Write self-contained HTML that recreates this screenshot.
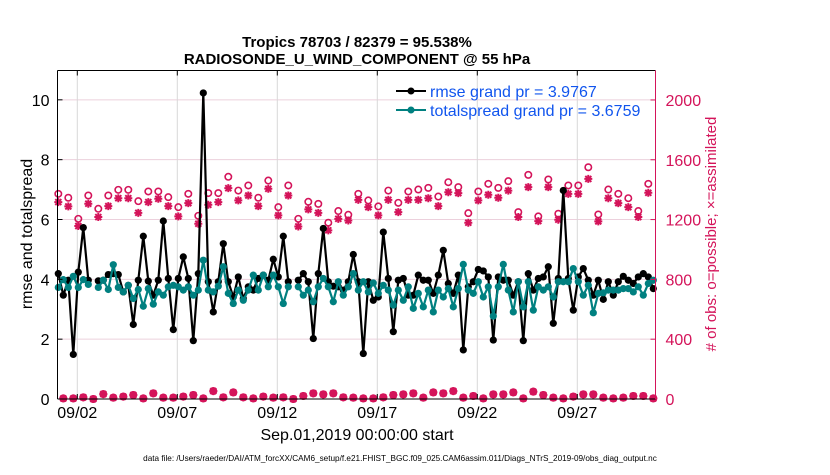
<!DOCTYPE html>
<html><head><meta charset="utf-8"><style>
body{margin:0;background:#fff;width:830px;height:470px;overflow:hidden;font-family:"Liberation Sans",sans-serif}
svg text{font-family:"Liberation Sans",sans-serif}
</style></head><body>
<svg id="chart" width="830" height="470" xmlns="http://www.w3.org/2000/svg">
<rect width="830" height="470" fill="#fff"/>
<g id="grid"></g>
<g id="marks"></g>
<g id="axes"></g>
<text x="357" y="47" text-anchor="middle" font-size="15" font-weight="bold">Tropics 78703 / 82379 = 95.538%</text>
<text x="357" y="64" text-anchor="middle" font-size="15" font-weight="bold">RADIOSONDE_U_WIND_COMPONENT @ 55 hPa</text>
<text transform="translate(32,234) rotate(-90)" text-anchor="middle" font-size="16">rmse and totalspread</text>
<text transform="translate(716,234) rotate(-90)" text-anchor="middle" font-size="15" fill="#d4145a"># of obs: o=possible; ×=assimilated</text>
<text x="357" y="440" text-anchor="middle" font-size="16">Sep.01,2019 00:00:00 start</text>
<text x="400" y="461" text-anchor="middle" font-size="8.2">data file: /Users/raeder/DAI/ATM_forcXX/CAM6_setup/f.e21.FHIST_BGC.f09_025.CAM6assim.011/Diags_NTrS_2019-09/obs_diag_output.nc</text>
<g>
<line x1="396" y1="91" x2="426" y2="91" stroke="#000" stroke-width="2"/><circle cx="411" cy="91" r="3.5" fill="#000"/>
<text x="430" y="97" font-size="16" fill="#1155ee">rmse grand pr = 3.9767</text>
<line x1="396" y1="110" x2="426" y2="110" stroke="#008080" stroke-width="2"/><circle cx="411" cy="110" r="3.5" fill="#008080"/>
<text x="430" y="116" font-size="16" fill="#1155ee">totalspread grand pr = 3.6759</text>
</g>
</svg>
<script>
const rmse=[4.19,3.47,3.97,1.49,4.24,5.73,3.97,null,3.95,3.97,4.16,4.19,4.16,3.58,3.80,2.49,3.97,5.44,3.94,3.47,3.97,5.95,4.03,2.32,4.03,4.75,4.03,1.95,4.19,10.23,3.92,2.91,3.92,5.19,3.92,3.41,4.08,3.36,3.75,3.64,4.03,4.14,3.97,4.67,4.08,5.44,3.92,null,3.97,4.19,3.92,2.02,4.19,5.70,3.92,3.77,3.75,3.64,3.92,4.83,3.92,1.52,3.92,3.30,3.41,5.58,4.03,2.25,3.97,4.03,3.47,3.47,4.14,3.97,3.97,3.53,4.14,4.97,3.86,3.53,4.14,1.64,3.75,3.92,4.33,4.28,4.08,1.97,4.08,3.97,3.97,3.47,3.92,1.95,4.19,3.64,4.03,4.08,4.42,2.53,4.03,6.97,4.03,2.97,4.08,4.36,3.97,3.47,3.97,3.33,3.92,3.47,3.92,4.10,3.97,3.86,4.08,4.19,4.08,3.69];
const spread=[3.73,3.99,3.73,4.10,3.73,3.99,3.83,null,3.73,3.97,3.66,4.49,3.73,3.58,3.80,3.36,3.66,3.10,3.69,3.17,3.58,3.47,3.75,3.80,3.75,3.64,3.75,3.47,3.64,4.64,3.64,3.58,3.77,4.42,3.53,3.19,3.64,3.30,3.64,4.14,3.64,4.14,3.75,4.14,3.75,3.19,3.75,null,3.75,3.47,3.64,3.25,3.75,4.03,3.75,3.25,3.92,3.47,3.75,4.19,3.64,3.92,3.58,3.88,3.53,3.80,3.64,3.14,3.64,3.30,3.75,3.03,3.53,3.08,3.64,2.91,3.64,3.41,3.69,3.08,3.69,4.50,3.64,3.53,3.92,3.41,3.75,2.77,3.75,4.50,3.64,2.91,3.92,3.08,3.92,2.97,3.75,3.64,3.75,3.41,3.92,3.92,3.92,4.36,3.92,3.47,3.80,2.88,3.53,3.55,3.64,3.64,3.64,3.69,3.69,3.58,3.75,3.47,3.86,3.97];
const possEven=[1372,1346,1205,1361,1272,1361,1399,1399,1323,1388,1388,1350,1283,1372,1225,1377,1377,1486,1394,1428,1346,1461,1283,1428,1205,1319,1305,1179,1257,1232,1372,1328,1288,1394,1312,1388,1401,1412,1354,1450,1417,1243,1388,1439,1412,1457,1250,1499,1221,1468,1239,1428,1428,1550,1234,1401,1372,1343,1257,1439];
const assimEven=[1317,1288,1157,1306,1217,1290,1343,1343,1245,1317,1339,1290,1221,1310,1172,1299,1317,1410,1328,1361,1290,1406,1228,1361,1154,1268,1245,1128,1205,1194,1332,1283,1228,1332,1250,1332,1332,1343,1290,1383,1377,1179,1328,1366,1346,1394,1217,1417,1190,1417,1199,1372,1372,1472,1188,1343,1310,1283,1217,1379];
const obsOdd=[4,4,11,0,33,9,16,27,4,38,9,9,16,27,4,53,11,44,11,4,16,9,11,0,20,38,31,38,11,9,4,4,11,27,31,38,9,44,38,53,9,20,4,31,31,44,4,49,27,9,4,16,31,31,9,4,9,20,20,4];
const yTicks=[0,2,4,6,8,10];
const rTicks=[0,400,800,1200,1600,2000];
const xTickDays=[1,6,11,16,21,26];
const xTickLabels=["09/02","09/07","09/12","09/17","09/22","09/27"];

const L=57.5,R=655.5,T=70.5,B=399;
const yS=v=>B-v*(B-T)/10.98;
const rS=n=>B-n*(B-T)/2197;
const xDay=d=>57.3+d*20;
const xIdx=i=>58.3+i*5.0;
const NS="http://www.w3.org/2000/svg";
function mk(tag,attrs,parent){const e=document.createElementNS(NS,tag);for(const k in attrs)e.setAttribute(k,attrs[k]);parent.appendChild(e);return e;}
const grid=document.getElementById('grid'),marks=document.getElementById('marks'),axes=document.getElementById('axes');

yTicks.forEach(v=>{if(v>0){const g=mk('line',{x1:L,x2:R,y1:yS(v),y2:yS(v),stroke:'#ecd0dc','stroke-width':1},grid);

}
const t=mk('text',{x:L-8,y:yS(v)+6,'text-anchor':'end','font-size':16},axes);t.textContent=v;


mk('line',{x1:L,x2:L+5,y1:yS(v),y2:yS(v),stroke:'#000'},axes);});
rTicks.forEach(n=>{const t=mk('text',{x:R+10,y:rS(n)+6,'font-size':16,fill:'#d4145a'},axes);t.textContent=n;


mk('line',{x1:R-5,x2:R,y1:rS(n),y2:rS(n),stroke:'#d4145a'},axes);});
xTickDays.forEach((d,k)=>{const g=mk('line',{x1:xDay(d),x2:xDay(d),y1:T,y2:B,stroke:'#d8d8d8','stroke-width':1},grid);


const t=mk('text',{x:xDay(d),y:418,'text-anchor':'middle','font-size':16},axes);t.textContent=xTickLabels[k];


mk('line',{x1:xDay(d),x2:xDay(d),y1:T,y2:T+5,stroke:'#000'},axes);
mk('line',{x1:xDay(d),x2:xDay(d),y1:B-5,y2:B,stroke:'#000'},axes);});
mk('line',{x1:L,x2:R,y1:T,y2:T,stroke:'#000'},axes);
mk('line',{x1:L,x2:R,y1:B,y2:B,stroke:'#000'},axes);
mk('line',{x1:L,x2:L,y1:T,y2:B,stroke:'#000'},axes);
mk('line',{x1:R,x2:R,y1:T,y2:B,stroke:'#d4145a'},axes);

function star(cx,cy,g){const s=4;const p=mk('path',{d:`M${cx-s},${cy}H${cx+s}M${cx},${cy-s}V${cy+s}M${cx-3},${cy-3}L${cx+3},${cy+3}M${cx-3},${cy+3}L${cx+3},${cy-3}`,stroke:'#d4145a','stroke-width':2},g);

}
function ring(cx,cy,g){const c=mk('circle',{cx:cx,cy:cy,r:3.2,fill:'none',stroke:'#d4145a','stroke-width':1.6},g);

}
possEven.forEach((n,k)=>{const x=xIdx(2*k);ring(x,rS(n),marks);star(x,rS(assimEven[k]),marks);});
obsOdd.forEach((n,k)=>{const x=xIdx(2*k+1);ring(x,rS(n),marks);star(x,rS(n),marks);});

function series(vals,color,name){let d='',pen=false;
vals.forEach((v,i)=>{if(v===null){pen=false;return;}d+=(pen?'L':'M')+xIdx(i)+','+yS(v);pen=true;});
const p=mk('path',{d:d,fill:'none',stroke:color,'stroke-width':2.2,'stroke-linejoin':'round'},marks);


vals.forEach((v,i)=>{if(v===null)return;const c=mk('circle',{cx:xIdx(i),cy:yS(v),r:3.6,fill:color},marks);

});}
series(rmse,'#000','rmse');
series(spread,'#008080','totalspread');
</script>
</body></html>
